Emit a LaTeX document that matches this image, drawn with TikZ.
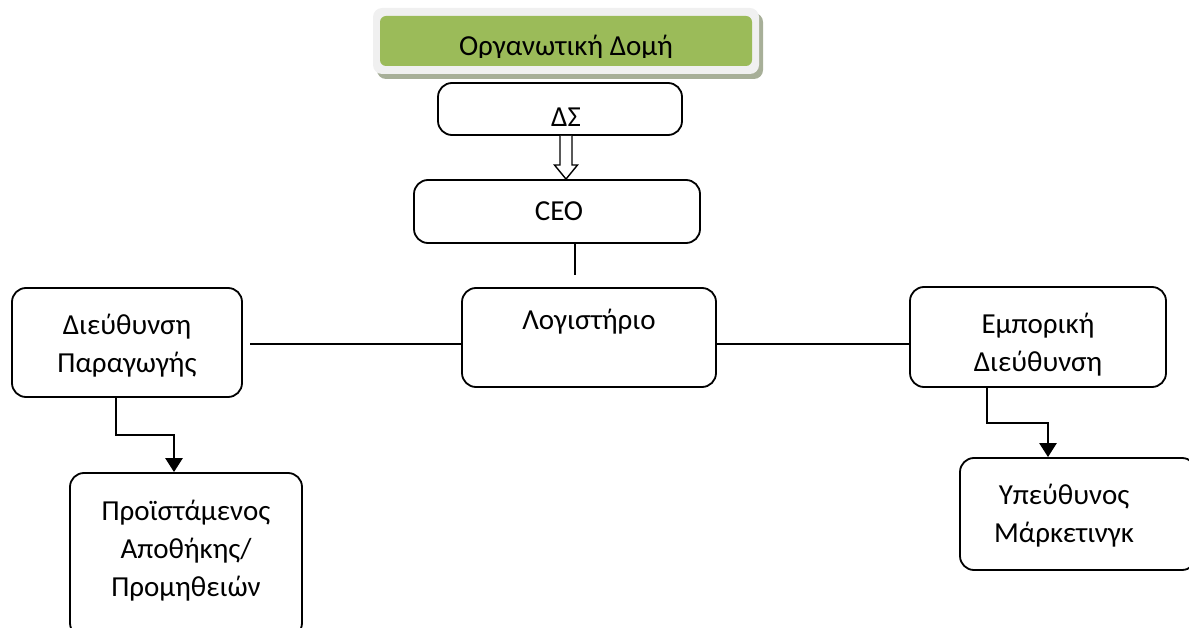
\documentclass[tikz,border=0pt]{standalone}
\usepackage{fontspec}
\setmainfont{Carlito}
\usetikzlibrary{arrows.meta,calc,shapes.misc}
\definecolor{titlegreen}{HTML}{9BBB59}
\definecolor{framegray}{HTML}{F0F0F0}
\definecolor{shadowgray}{HTML}{A7AF98}
\tikzset{
  box/.style={draw=black, line width=1.8pt, rounded corners=14pt, fill=white, inner sep=0pt},
  lbl/.style={font=\fontsize{29}{38}\selectfont, align=center, inner sep=0pt},
  conn/.style={line width=1.8pt},
  elbow/.style={line width=2.6pt, -{Triangle[width=17pt,length=14pt]}}
}
\begin{document}
\begin{tikzpicture}[x=1pt,y=-1pt]
\useasboundingbox (0,0) rectangle (1189,628);
\clip (0,0) rectangle (1189,628);
% title
\fill[shadowgray, rounded corners=9pt] (377,13) rectangle (763,79);
\fill[framegray, rounded corners=9pt] (373,8) rectangle (759,74);
\node[fill=titlegreen, rounded corners=6pt, minimum width=372pt, minimum height=50pt, inner sep=0pt] (title) at (566,41) {};
\begin{scope}
\clip (380,16) rectangle (752,58);
\node[lbl, anchor=base] (titletext) at (566,56) {Οργανωτική Δομή};
\end{scope}
% boxes
\node[box, minimum width=244pt, minimum height=52pt] (ds) at (560,109) {};
\node[lbl] (dstext) at (566,117) {ΔΣ};
\node[box, minimum width=286pt, minimum height=63pt] (ceo) at (557,211.5) {};
\node[lbl] (ceotext) at (559,211) {CEO};
\node[box, minimum width=254pt, minimum height=99pt] (log) at (589,337.5) {};
\node[lbl] (logtext) at (589,322) {Λογιστήριο};
\node[box, minimum width=230pt, minimum height=109pt] (dp) at (127,342.5) {};
\node[lbl] (dptext) at (127,346) {Διεύθυνση\\Παραγωγής};
\node[box, minimum width=256pt, minimum height=100pt] (em) at (1038,337) {};
\node[lbl] (emtext) at (1038,345) {Εμπορική\\Διεύθυνση};
\node[box, minimum width=232pt, minimum height=164pt] (pr) at (186,555) {};
\node[lbl] (prtext) at (186,551) {Προϊστάμενος\\Αποθήκης/\\Προμηθειών};
\node[box, minimum width=236pt, minimum height=112pt] (ym) at (1078,514) {};
\node[lbl] (ymtext) at (1064,516) {Υπεύθυνος\\Μάρκετινγκ};
% hollow arrow ds -> ceo
\draw[line width=1.4pt, fill=white]
  ($(ds.south -| 560,0)$) -- (560,165) -- (554.5,165) -- ($(ceo.north -| 566,0)$)
  -- (577.5,165) -- (572,165) -- ($(ds.south -| 572,0)$);
% ceo stub
\coordinate (stub) at (575,275);
\draw[conn] (ceo.south -| stub) -- (stub);
% horizontal lines
\coordinate (hl) at (250,344);
\draw[conn] (hl) -- (log.west |- hl);
\draw[conn] (log.east |- hl) -- (em.west |- hl);
% elbows
\draw[elbow] (dp.south -| 116,0) -- (116,435) -- (174,435) -- (pr.north -| 174,0);
\draw[elbow] (em.south -| 987,0) -- (987,423) -- (1048,423) -- (ym.north -| 1048,0);
\end{tikzpicture}
\end{document}
